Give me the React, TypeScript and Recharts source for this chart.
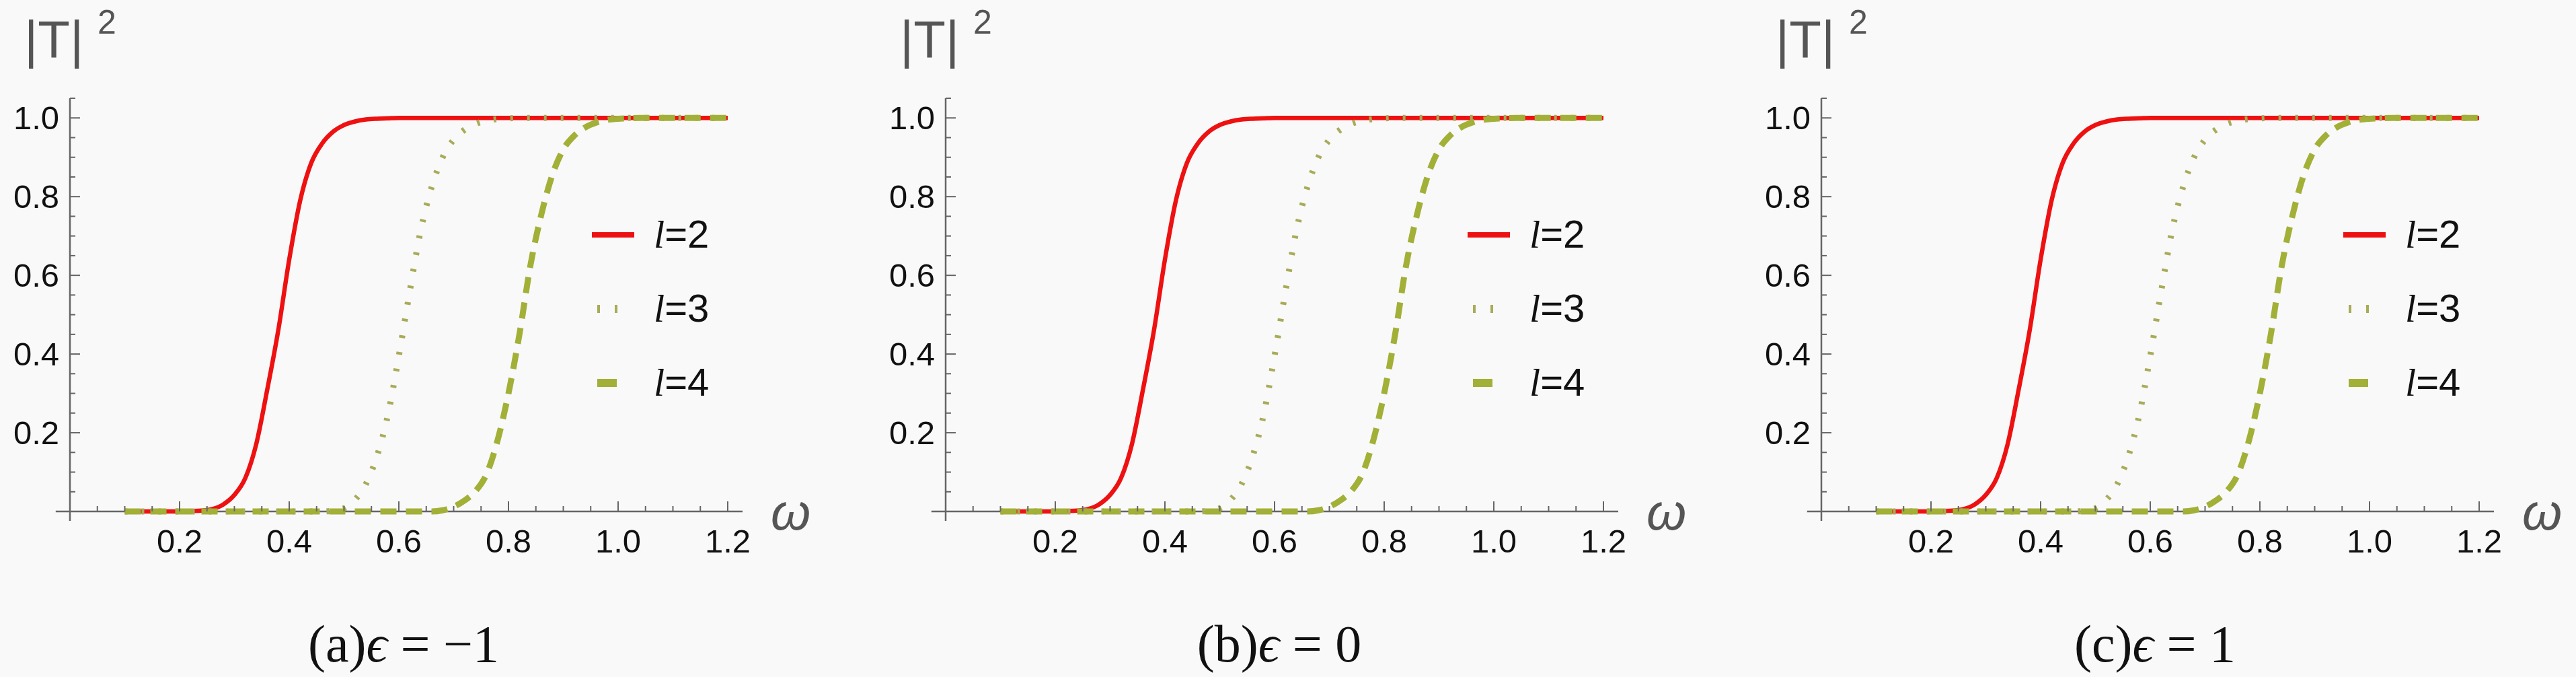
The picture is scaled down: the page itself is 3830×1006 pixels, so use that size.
import { LineChart, Line, XAxis, YAxis, ReferenceLine, Legend } from "recharts";

// ω grid and |T|^2 (same for all three ε panels)
const omega = [
  0.1, 0.12, 0.14, 0.16, 0.18, 0.2, 0.22, 0.24, 0.26, 0.28, 0.3, 0.32, 0.34, 0.36,
  0.38, 0.4, 0.42, 0.44, 0.46, 0.48, 0.5, 0.52, 0.54, 0.56, 0.58, 0.6, 0.62, 0.64,
  0.66, 0.68, 0.7, 0.72, 0.74, 0.76, 0.78, 0.8, 0.82, 0.84, 0.86, 0.88, 0.9, 0.92,
  0.94, 0.96, 0.98, 1.0, 1.02, 1.04, 1.06, 1.08, 1.1, 1.12, 1.14, 1.16, 1.18, 1.2,
];
const t2 = [
  0, 0, 0, 0, 0, 0, 0.001, 0.002, 0.006, 0.018, 0.042, 0.085, 0.172, 0.31,
  0.46, 0.64, 0.79, 0.885, 0.935, 0.965, 0.982, 0.991, 0.996, 0.998, 0.999, 1, 1, 1,
  1, 1, 1, 1, 1, 1, 1, 1, 1, 1, 1, 1, 1, 1,
  1, 1, 1, 1, 1, 1, 1, 1, 1, 1, 1, 1, 1, 1,
];
const t3 = [
  0, 0, 0, 0, 0, 0, 0, 0, 0, 0, 0, 0, 0, 0,
  0, 0, 0, 0, 0, 0.002, 0.008, 0.03, 0.07, 0.14, 0.245, 0.395, 0.56, 0.715,
  0.825, 0.9, 0.945, 0.97, 0.985, 0.993, 0.997, 0.999, 1, 1, 1, 1, 1, 1,
  1, 1, 1, 1, 1, 1, 1, 1, 1, 1, 1, 1, 1, 1,
];
const t4 = [
  0, 0, 0, 0, 0, 0, 0, 0, 0, 0, 0, 0, 0, 0,
  0, 0, 0, 0, 0, 0, 0, 0, 0, 0, 0, 0, 0, 0,
  0, 0.003, 0.012, 0.028, 0.052, 0.095, 0.18, 0.3, 0.45, 0.625, 0.755, 0.855, 0.92, 0.955,
  0.976, 0.988, 0.995, 0.998, 0.999, 1, 1, 1, 1, 1, 1, 1, 1, 1,
];

const ells = [2, 3, 4];
const panelTags = ["a", "b", "c"];
const epsilons = ["\u22121", "0", "1"];

const xTicks = [
  0.05, 0.1, 0.15, 0.2, 0.25, 0.3, 0.35, 0.4, 0.45, 0.5, 0.55, 0.6,
  0.65, 0.7, 0.75, 0.8, 0.85, 0.9, 0.95, 1.0, 1.05, 1.1, 1.15, 1.2,
];
const xLabels = [0.2, 0.4, 0.6, 0.8, 1.0, 1.2];
const yTicks = [
  0.05, 0.1, 0.15, 0.2, 0.25, 0.3, 0.35, 0.4, 0.45, 0.5, 0.55,
  0.6, 0.65, 0.7, 0.75, 0.8, 0.85, 0.9, 0.95, 1.0, 1.05,
];
const yLabels = [0.2, 0.4, 0.6, 0.8, 1.0];

const rows = omega.map((w, i) => ({ w, l2: t2[i], l3: t3[i], l4: t4[i] }));

const SANS = "'Liberation Sans', Arial, sans-serif";
const SERIF = "'Liberation Serif', 'DejaVu Serif', serif";
const AXIS = "#666";
const TITLE = "#555";

const styles = [
  { key: "l2", color: "#ee1111", width: 6.5, dash: undefined as string | undefined },
  { key: "l3", color: "#a8ab58", width: 9, dash: "4 21" },
  { key: "l4", color: "#a2b038", width: 9, dash: "24 14" },
];

const isMajor = (list: number[], v: number) => list.some((m) => Math.abs(m - v) < 1e-9);

const XTick = (props: any) => {
  const { x, y, payload } = props;
  const major = isMajor(xLabels, payload.value);
  return (
    <g>
      <line x1={x} x2={x} y1={y} y2={y - (major ? 15 : 8)} stroke={AXIS} strokeWidth={2} />
      {major && (
        <text x={x} y={y + 61} textAnchor="middle" fontFamily={SANS} fontSize={49} fill="#111">
          {payload.value.toFixed(1)}
        </text>
      )}
    </g>
  );
};

const YTick = (props: any) => {
  const { x, y, payload } = props;
  const major = isMajor(yLabels, payload.value);
  return (
    <g>
      <line x1={x} x2={x + (major ? 15 : 8)} y1={y} y2={y} stroke={AXIS} strokeWidth={2} />
      {major && (
        <text x={x - 16} y={y + 17} textAnchor="end" fontFamily={SANS} fontSize={49} fill="#111">
          {payload.value.toFixed(1)}
        </text>
      )}
    </g>
  );
};

const YTitle = () => (
  <text fontFamily={SANS} fill={TITLE}>
    <tspan x={36} y={86} fontSize={78}>|T|</tspan>
    <tspan x={145} y={50} fontSize={50}>2</tspan>
  </text>
);

const XTitle = () => (
  <text x={1146} y={787} fontFamily={SANS} fontStyle="italic" fontSize={76} fill={TITLE}>
    ω
  </text>
);

const LegendBox = () => (
  <svg width={220} height={320}>
    {styles.map((s, i) => {
      const cy = 49 + 110 * i;
      return (
        <g key={s.key}>
          {i === 0 && <line x1={10} x2={73} y1={cy} y2={cy} stroke={s.color} strokeWidth={8} />}
          {i === 1 && (
            <line x1={18} x2={48} y1={cy} y2={cy} stroke={s.color} strokeWidth={12} strokeDasharray="4 22" />
          )}
          {i === 2 && <line x1={18} x2={47} y1={cy} y2={cy} stroke={s.color} strokeWidth={12} />}
          <text x={102} y={cy + 19} fontFamily={SANS} fontSize={58} fill="#111">
            <tspan fontFamily={SERIF} fontStyle="italic">l</tspan>={ells[i]}
          </text>
        </g>
      );
    })}
  </svg>
);

function Panel({ idx }: { idx: number }) {
  return (
    <div style={{ position: "absolute", left: 1302 * idx, top: 0, width: 1226, height: 1006 }}>
      <LineChart width={1226} height={1006} data={rows} margin={{ top: 146, right: 122, bottom: 186, left: 24 }}>
        <XAxis
          dataKey="w"
          type="number"
          domain={[0, 1.227]}
          ticks={xTicks}
          interval={0}
          axisLine={false}
          tickLine={false}
          tickSize={0}
          tickMargin={0}
          height={60}
          tick={(p: any) => <XTick {...p} />}
          label={<XTitle />}
        />
        <YAxis
          type="number"
          domain={[0, 1.05]}
          ticks={yTicks}
          interval={0}
          axisLine={false}
          tickLine={false}
          tickSize={0}
          tickMargin={0}
          width={80}
          tick={(p: any) => <YTick {...p} />}
          label={<YTitle />}
        />
        <ReferenceLine
          segment={[{ x: -0.026, y: 0 }, { x: 1.227, y: 0 }]}
          ifOverflow="visible"
          stroke={AXIS}
          strokeWidth={2.5}
        />
        <ReferenceLine
          segment={[{ x: 0, y: -0.024 }, { x: 0, y: 1.05 }]}
          ifOverflow="visible"
          stroke={AXIS}
          strokeWidth={2.5}
        />
        {styles.map((s) => (
          <Line
            key={s.key}
            dataKey={s.key}
            type="monotone"
            stroke={s.color}
            strokeWidth={s.width}
            strokeDasharray={s.dash}
            dot={false}
            activeDot={false}
            isAnimationActive={false}
          />
        ))}
        <Legend
          layout="vertical"
          align="center"
          verticalAlign="middle"
          content={() => <LegendBox />}
          wrapperStyle={{ left: 870, top: 300, width: 220, height: 320 }}
        />
      </LineChart>
      <svg width={1226} height={1006} style={{ position: "absolute", left: 0, top: 0, pointerEvents: "none" }}>
        <text x={600} y={983} textAnchor="middle" fontFamily={SERIF} fontSize={78} fill="#111">
          ({panelTags[idx]})<tspan fontStyle="italic">ϵ</tspan> = {epsilons[idx]}
        </text>
      </svg>
    </div>
  );
}

export default function App() {
  return (
    <div
      style={{
        position: "absolute",
        left: 0,
        top: 0,
        width: 3830,
        height: 1006,
        background: "#f9f9f9",
        overflow: "hidden",
      }}
    >
      {[0, 1, 2].map((i) => (
        <Panel key={i} idx={i} />
      ))}
    </div>
  );
}
